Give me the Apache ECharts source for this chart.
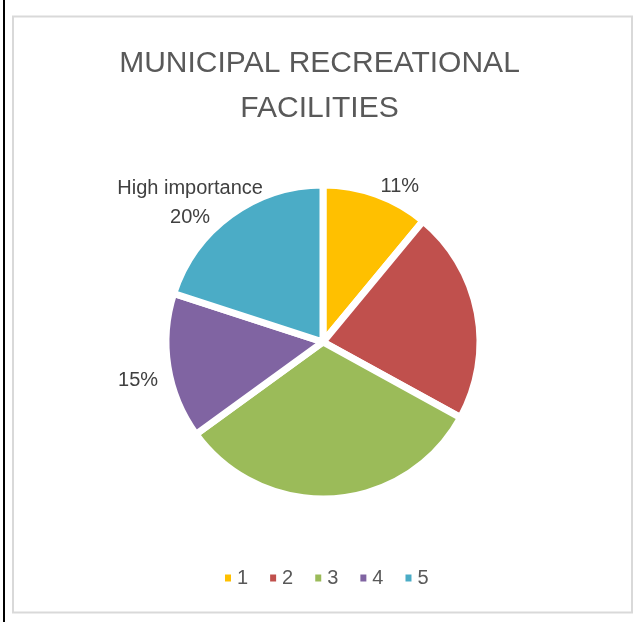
<!DOCTYPE html>
<html><head><meta charset="utf-8">
<script src="https://cdn.jsdelivr.net/npm/echarts@6/dist/echarts.min.js"></script>
<style>html,body{margin:0;padding:0;background:#fff}#c{width:639px;height:622px}</style>
</head><body><div id="c"></div>
<script>
const titleText = 'MUNICIPAL RECREATIONAL\nFACILITIES';
const categories = ['1', '2', '3', '4', '5'];
const values = [11, 22, 32, 15, 20];
const labelTexts = ['11%', '', '', '15%', 'High importance\n20%'];
const colors = ['#FFC000', '#C0504D', '#9BBB59', '#8064A2', '#4BACC6'];

const chart = echarts.init(document.getElementById('c'), null, {renderer: 'canvas'});
const labelLen = [10, 0, 0, 10, 18];
const labelShift = [[-4, 2], [0, 0], [0, 0], [5, 12], [-25, 3]];
const labelAlign = [undefined, undefined, undefined, undefined, 'center'];
chart.setOption({
  animation: false,
  title: {
    text: titleText, left: 'center', top: 36,
    textStyle: {fontFamily: 'Liberation Sans', fontWeight: 'normal', fontSize: 30, color: '#595959', lineHeight: 45}
  },
  legend: {
    data: categories, bottom: 29, left: 218, itemWidth: 8, itemHeight: 9, itemGap: 20,
    icon: 'rect',
    textStyle: {fontFamily: 'Liberation Sans', fontSize: 20, color: '#595959'}
  },
  graphic: [
    {type: 'rect', shape: {x: 3, y: 0, width: 2, height: 622}, style: {fill: '#000'}},
    {type: 'rect', shape: {x: 13, y: 16.5, width: 619, height: 596}, style: {fill: 'none', stroke: '#D9D9D9', lineWidth: 2}}
  ],
  series: [{
    type: 'pie', center: [323, 342], radius: [0, 157], startAngle: 90, clockwise: true,
    data: categories.map((c, i) => ({
      name: c, value: values[i],
      itemStyle: {color: colors[i]},
      label: {show: labelTexts[i] !== '', formatter: labelTexts[i]},
      labelLine: {length: labelLen[i], length2: 0}
    })),
    labelLayout: function (p) {
      const r = {dx: labelShift[p.dataIndex][0], dy: labelShift[p.dataIndex][1]};
      if (labelAlign[p.dataIndex]) r.align = labelAlign[p.dataIndex];
      return r;
    },
    itemStyle: {borderColor: '#fff', borderWidth: 7},
    label: {position: 'outside', fontFamily: 'Liberation Sans', fontSize: 20, color: '#404040', lineHeight: 29},
    labelLine: {show: false},
    emphasis: {disabled: true}
  }]
});
</script></body></html>
